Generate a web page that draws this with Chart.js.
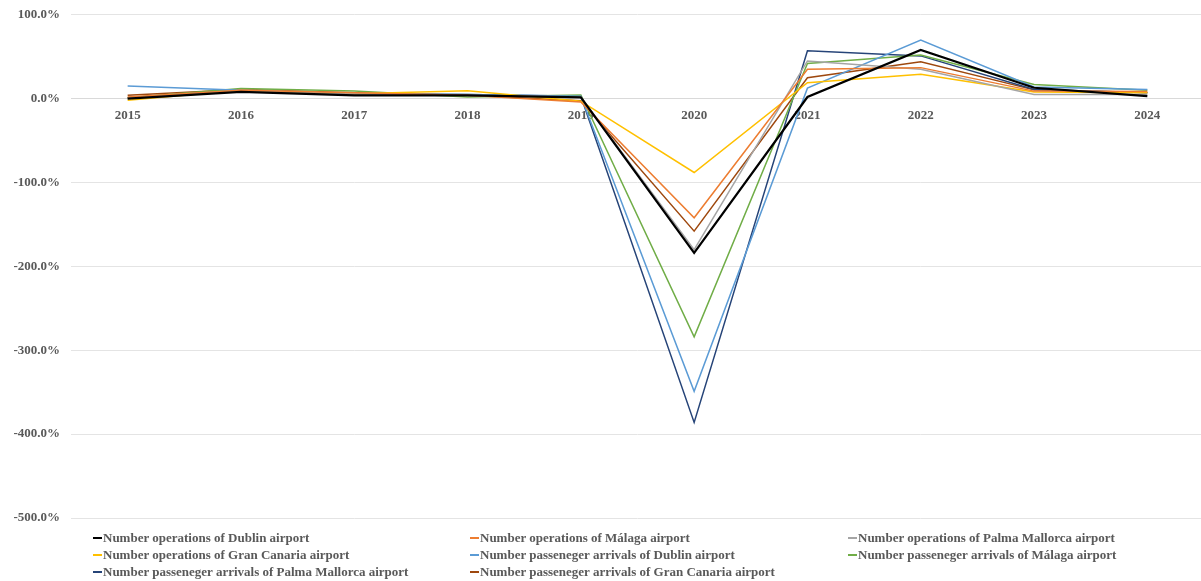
<!DOCTYPE html>
<html>
<head>
<meta charset="utf-8">
<script src="https://cdn.jsdelivr.net/npm/chart.js@4"></script>
<style>
    html, body { margin: 0; background: #fff; overflow: hidden; }
    #wrap { position: relative; width: 1201px; height: 581px; overflow: hidden; }
    #chart { position: absolute; left: 0; top: -4px; }
    #legend {
        position: absolute; left: 0; top: 529px; width: 1201px;
        font-family: "Liberation Serif", "Times New Roman", serif;
        font-weight: bold; font-size: 13px; color: #595959;
    }
    .item { position: absolute; white-space: nowrap; line-height: 17px; }
    .mark { display: inline-block; width: 9px; height: 2px; vertical-align: middle; margin-right: 1px; position: relative; top: -1px; }
</style>
</head>
<body>
<div id="wrap">
    <canvas id="chart" width="1204" height="585"></canvas>
    <div id="legend"></div>
</div>
<script>
const years = ['2015', '2016', '2017', '2018', '2019', '2020', '2021', '2022', '2023', '2024'];

const opsDublin      = [0, 8, 4, 4, 1.5, -184, 2, 58, 13, 3];
const opsMalaga      = [2, 10, 7, 4, -4, -142, 35, 37, 9, 8.5];
const opsPalma       = [1, 10, 6, 4, 2, -180, 45, 35, 5, 5];
const opsGranCanaria = [-2, 10, 6, 9.5, -3, -88, 19, 29, 8, 7];
const paxDublin      = [15, 10, 6, 5, 3, -349, 12.5, 70, 14, 11];
const paxMalaga      = [1, 12, 9, 2, 4.5, -284, 42, 52, 17, 10];
const paxPalma       = [1, 10, 6, 5, 3, -386, 57, 51, 11, 7];
const paxGranCanaria = [4, 11, 7, 4, -2.5, -158, 25, 44, 10.5, 7.5];

const seriesLabels = [
    'Number operations of Dublin airport',
    'Number operations of Málaga airport',
    'Number operations of Palma Mallorca airport',
    'Number operations of Gran Canaria airport',
    'Number passeneger arrivals of Dublin airport',
    'Number passeneger arrivals of Málaga airport',
    'Number passeneger arrivals of Palma Mallorca airport',
    'Number passeneger arrivals of Gran Canaria airport'
];
const seriesData = [opsDublin, opsMalaga, opsPalma, opsGranCanaria, paxDublin, paxMalaga, paxPalma, paxGranCanaria];
const seriesColors = ['#000000', '#ED7D31', '#A5A5A5', '#FFC000', '#5B9BD5', '#70AD47', '#264478', '#9E480E'];

const yTicks = [100, 0, -100, -200, -300, -400, -500];

const tickFont = { family: '"Liberation Serif", "Times New Roman", serif', size: 13, weight: 'bold' };

const datasets = seriesLabels.map((label, i) => ({
    label: label,
    data: seriesData[i],
    borderColor: seriesColors[i],
    backgroundColor: seriesColors[i],
    borderWidth: i === 0 ? 2.2 : 1.5,
    pointRadius: 0,
    tension: 0,
    fill: false
}));
// black line on top
datasets[0].order = -1;

new Chart(document.getElementById('chart'), {
    type: 'line',
    data: { labels: years, datasets: datasets },
    options: {
        responsive: false,
        animation: false,
        layout: { padding: { top: 11, bottom: 63, left: 0, right: 0 } },
        plugins: { legend: { display: false }, tooltip: { enabled: false } },
        scales: {
            x: {
                offset: true,
                position: { y: 0 },
                grid: { display: false, drawTicks: false },
                border: { display: true, color: '#d9d9d9', width: 1 },
                ticks: { color: '#595959', font: tickFont, padding: 9, maxRotation: 0 }
            },
            y: {
                min: -500,
                max: 100,
                afterFit: (scale) => { scale.width = 71; },
                afterBuildTicks: (scale) => { scale.ticks = yTicks.map(v => ({ value: v })); },
                grid: { color: '#e4e4e4', drawTicks: false },
                border: { display: false },
                ticks: {
                    color: '#595959', font: tickFont, padding: 11,
                    callback: (v) => v.toFixed(1) + '%'
                }
            }
        }
    }
});

// legend in three columns, like the original
const legend = document.getElementById('legend');
const colX = [93, 470, 848];
seriesLabels.forEach((label, i) => {
    const item = document.createElement('div');
    item.className = 'item';
    item.style.left = colX[i % 3] + 'px';
    item.style.top = (Math.floor(i / 3) * 17) + 'px';
    const mark = document.createElement('span');
    mark.className = 'mark';
    mark.style.background = seriesColors[i];
    item.appendChild(mark);
    item.appendChild(document.createTextNode(label));
    legend.appendChild(item);
});
</script>
</body>
</html>
